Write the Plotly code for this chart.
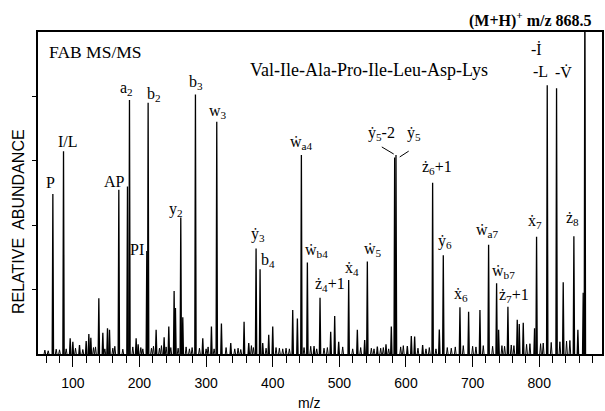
import plotly.graph_objects as go

# ---------------- data (m/z, relative abundance %) ----------------
peak_mz = [70, 86, 96, 100, 110, 120, 124, 127, 139, 145, 152, 155, 169, 182, 185,
           195, 198, 211, 213, 225, 237, 244, 252, 254, 262, 265, 284, 295, 308, 316,
           323, 337, 357, 364, 375, 381, 385, 394, 400, 430, 437, 443, 452, 462, 471,
           487, 493, 499, 514, 527, 538, 542, 557, 570, 578, 583, 585, 602, 608, 613,
           625, 640, 650, 656, 681, 694, 711, 724, 736, 739, 753, 767, 770, 776, 793,
           796, 812, 826, 836, 852, 858, 866, 868.5]
peak_int = [49.7, 63.0, 4.9, 3.8, 2.8, 4.0, 6.2, 5.0, 17.3, 6.6, 8.0, 7.5, 51.0, 52.0, 78.9,
            4.9, 3.0, 32.0, 78.0, 7.5, 5.2, 8.5, 19.6, 14.3, 42.4, 11.4, 80.6, 4.9, 8.5, 72.1,
            9.5, 3.4, 10.0, 3.4, 32.8, 26.3, 3.4, 6.0, 8.5, 13.7, 11.0, 61.8, 28.4, 2.5, 17.5,
            6.9, 11.8, 3.8, 23.0, 7.5, 4.3, 28.7, 2.3, 3.0, 8.5, 61.0, 61.8, 2.5, 5.6, 5.4,
            2.8, 53.2, 7.6, 30.7, 14.5, 13.1, 13.7, 33.9, 22.0, 7.5, 14.7, 10.6, 9.3, 9.7, 8.0,
            36.4, 83.5, 82.5, 22.3, 36.6, 7.5, 19.0, 120.0]

# small baseline peaks (noise-like spikes)
minor_mz = [58, 63, 75, 80, 90, 104, 115, 131, 134, 148, 160, 163, 175, 190, 202, 205,
            218, 221, 230, 233, 240, 247, 258, 270, 275, 279, 290, 300, 303, 312, 330,
            343, 348, 352, 368, 371, 390, 405, 410, 415, 420, 425, 447, 457, 466, 477,
            482, 505, 520, 532, 548, 552, 562, 566, 574, 592, 596, 618, 630, 635, 645,
            662, 668, 674, 686, 700, 705, 716, 730, 744, 748, 758, 762, 781, 786, 802,
            806, 818, 831, 841, 846]
minor_int = [1.2, 1.0, 1.5, 1.3, 1.6, 1.8, 1.4, 2.0, 2.2, 1.6, 1.8, 2.4, 1.5, 2.2, 2.0, 1.6,
             1.8, 2.4, 1.8, 2.6, 2.2, 2.0, 1.8, 2.2, 1.6, 2.0, 1.8, 1.6, 2.2, 1.6, 2.0,
             1.6, 1.8, 1.4, 2.6, 2.0, 1.8, 2.0, 1.8, 1.6, 1.8, 1.6, 2.0, 2.4, 1.6, 1.8,
             2.0, 2.2, 1.6, 2.0, 1.8, 1.6, 1.8, 2.0, 1.6, 2.2, 2.6, 1.8, 1.6, 2.0, 1.6,
             2.0, 1.8, 2.2, 2.6, 2.4, 2.2, 2.6, 2.4, 2.6, 2.4, 2.8, 2.6, 3.0, 3.2, 3.2,
             3.4, 3.6, 3.8, 4.0, 4.2]

# tick labels
tick_vals = [100, 200, 300, 400, 500, 600, 700, 800]
tick_text = ["100", "200", "300", "400", "500", "600", "700", "800"]

# peak annotations: (text, m/z position, abundance position)
label_text = ["P", "I/L", "AP", "a<sub>2</sub>", "b<sub>2</sub>", "PI", "b<sub>3</sub>",
              "w<sub>3</sub>", "y<sub>2</sub>", "ẏ<sub>3</sub>", "b<sub>4</sub>",
              "ẇ<sub>a4</sub>", "ẇ<sub>b4</sub>", "ż<sub>4</sub>+1", "ẋ<sub>4</sub>",
              "ẇ<sub>5</sub>", "ẏ<sub>5</sub>-2", "ẏ<sub>5</sub>", "ż<sub>6</sub>+1",
              "ẏ<sub>6</sub>", "ẋ<sub>6</sub>", "ẇ<sub>a7</sub>", "ẇ<sub>b7</sub>",
              "ż<sub>7</sub>+1", "ẋ<sub>7</sub>", "ż<sub>8</sub>", "-İ", "-L", "-V\u0307"]
label_x = [67.2, 93.3, 162.1, 180.1, 221.2, 196.8, 285.5, 318.4, 254.1, 378.2, 393.2,
           442.6, 465.0, 485.9, 518.8, 550.2, 563.7, 611.6, 646.0, 657.9, 681.9, 722.3,
           746.2, 762.6, 794.0, 849.4, 795.5, 801.5, 836.0]
label_y = [53.3, 66.1, 53.7, 82.3, 80.7, 32.6, 84.2, 75.2, 45.0, 37.0, 28.9, 65.8, 32.0,
           21.7, 26.7, 32.6, 68.6, 68.6, 57.8, 34.8, 18.6, 38.5, 25.5, 18.3, 41.0, 42.2,
           94.7, 87.6, 87.3]

SERIF = "Liberation Serif, DejaVu Serif, serif"
SANS = "Liberation Sans, Arial, sans-serif"

# ---------------- build stick spectrum ----------------
def sticks(mzs, ints, half=1.0):
    xs, ys = [], []
    for m, h in zip(mzs, ints):
        xs += [m - half, m, m + half, None]
        ys += [0, h, 0, None]
    return xs, ys

fig = go.Figure()
mx, my = sticks(minor_mz, minor_int, 1.2)
fig.add_trace(go.Scatter(x=mx, y=my, mode="lines", line=dict(color="black", width=1),
                         hoverinfo="skip", showlegend=False))
px_, py_ = sticks(peak_mz, peak_int, 1.0)
fig.add_trace(go.Scatter(x=px_, y=py_, mode="lines", line=dict(color="black", width=1.3),
                         showlegend=False))

annotations = []
for t, x, y in zip(label_text, label_x, label_y):
    annotations.append(dict(text=t, x=x, y=y, xref="x", yref="y", showarrow=False,
                            xanchor="center", yanchor="middle",
                            font=dict(family=SERIF, size=16, color="black")))

annotations += [
    dict(text="FAB MS/MS", x=134.5, y=93.8, xref="x", yref="y", showarrow=False,
         font=dict(family=SERIF, size=17.5, color="black")),
    dict(text="Val-Ile-Ala-Pro-Ile-Leu-Asp-Lys", x=544.3, y=88.2, xref="x", yref="y",
         showarrow=False, font=dict(family=SERIF, size=18, color="black")),
    dict(text="<b>(M+H)<sup>+</sup> m/z 868.5</b>", x=0.8737, y=1.0373, xref="paper",
         yref="paper", showarrow=False, xanchor="center", yanchor="middle",
         font=dict(family=SERIF, size=16, color="black")),
    dict(text="m/z", x=0.4806, y=-0.1522, xref="paper", yref="paper", showarrow=False,
         xanchor="center", yanchor="middle",
         font=dict(family=SANS, size=14, color="black")),
    dict(text="RELATIVE  ABUNDANCE", x=-0.0336, y=0.41, xref="paper", yref="paper",
         showarrow=False, textangle=-90, xanchor="center", yanchor="middle",
         font=dict(family=SANS, size=16, color="black")),
]

shapes = [
    dict(type="line", xref="x", yref="y", x0=563.7, y0=64.3, x1=581.6, y1=62.1,
         line=dict(color="black", width=1)),
    dict(type="line", xref="x", yref="y", x0=590.6, y0=61.2, x1=604.1, y1=63.0,
         line=dict(color="black", width=1)),
]

fig.update_layout(
    width=605, height=411,
    margin=dict(l=38, r=1, t=32, b=57),
    paper_bgcolor="white", plot_bgcolor="white",
    annotations=annotations, shapes=shapes,
    showlegend=False,
)
fig.update_xaxes(range=[47.7, 894.2], showgrid=False, zeroline=False,
                 showline=True, linecolor="black", linewidth=2, mirror=True,
                 tickmode="array", tickvals=tick_vals, ticktext=tick_text,
                 ticks="outside", ticklen=11, tickwidth=1.2, tickcolor="black",
                 ticklabelstandoff=4,
                 tickfont=dict(family=SANS, size=14, color="black"),
                 minor=dict(dtick=20, tick0=0, ticks="outside", ticklen=7,
                            tickwidth=1, tickcolor="black", showgrid=False))
fig.update_yaxes(range=[0, 100], showgrid=False, zeroline=False,
                 showline=True, linecolor="black", linewidth=1.5, mirror=True,
                 tickmode="array", tickvals=[20, 40, 60, 80], ticks="outside",
                 ticklen=4, tickcolor="black", showticklabels=False)

fig.write_html("out.html")
